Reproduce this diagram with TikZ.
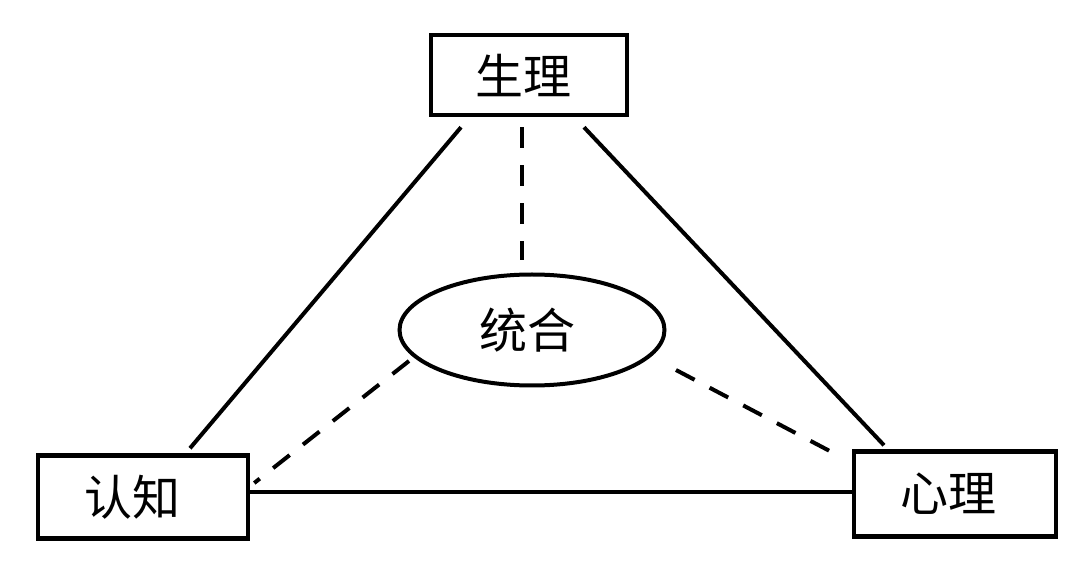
\documentclass[tikz,border=0pt]{standalone}
\usepackage{fontspec}
\newfontfamily\cjk{Noto Sans CJK SC}
\usetikzlibrary{calc,shapes.geometric}
\begin{document}
\begin{tikzpicture}[x=1pt,y=-1pt,
  box/.style={draw,line width=4.5pt,rectangle,inner sep=0pt,font=\cjk\fontsize{48}{56}\selectfont},
  oval/.style={draw,line width=4pt,ellipse,inner sep=0pt,font=\cjk\fontsize{48}{56}\selectfont},
  link/.style={line width=4pt},
  dlink/.style={line width=4pt,dash pattern=on 21pt off 17pt}]
\useasboundingbox (0,0) rectangle (1080,569);
\node[box,minimum width=196pt,minimum height=80pt] (top) at (529,75) {\hspace*{-12pt}生理};
\node[box,minimum width=210pt,minimum height=83pt] (left) at (143,497) {\hspace*{-22pt}认知};
\node[box,minimum width=202pt,minimum height=85pt] (right) at (955,494) {\hspace*{-14pt}心理};
\node[oval,minimum width=265pt,minimum height=111pt] (mid) at (532,330) {\hspace*{-10pt}统合};
% solid connectors
\draw[link] ($(top.south)+(-68,10)$) -- ($(left.north)+(47,-5)$);
\draw[link] ($(top.south)+(55,10)$) -- ($(right.north)+(-71,-4)$);
\draw[link] ($(left.east)+(0,-5)$) -- ($(right.west)+(0,-2)$);
% dashed connectors
\draw[dlink] ($(top.south)+(-7,10)$) -- ($(mid.north)+(-10,-12)$);
\draw[dlink] ($(mid.center)+(-123,31)$) -- ($(left.east)+(4,-14)$);
\draw[dlink] ($(mid.center)+(144,40)$) -- ($(right.north west)+(-14,6)$);
\end{tikzpicture}
\end{document}
